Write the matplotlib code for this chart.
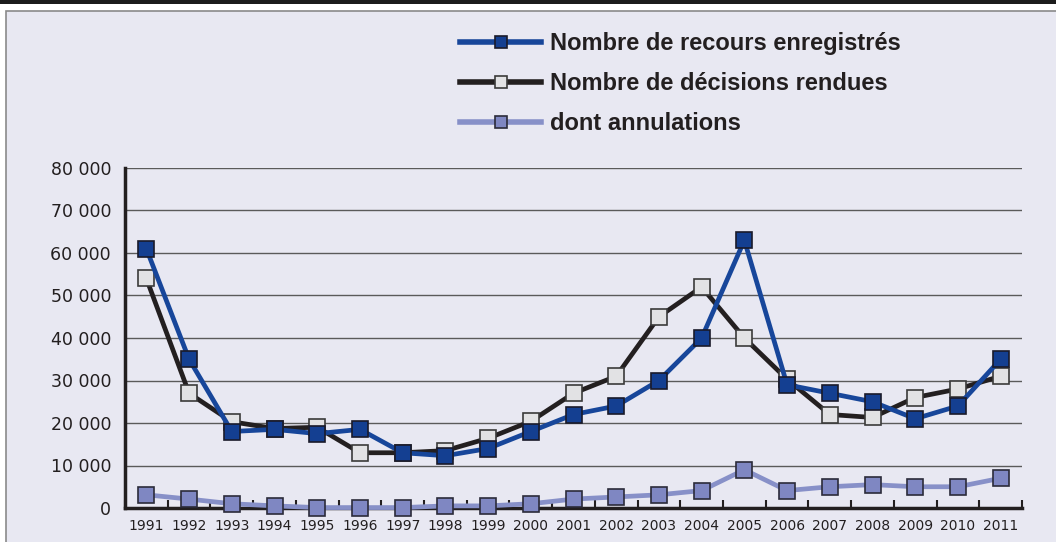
"""
Recours enregistrés, décisions rendues et annulations, 1991-2011.
"""
import matplotlib
matplotlib.use("Agg")
from matplotlib import pyplot as plt
from matplotlib.patches import Rectangle
from matplotlib.ticker import FuncFormatter, FixedLocator

years = [str(y) for y in range(1991, 2012)]
recours = [61000, 35000, 18000, 18500, 17500, 18500, 13000, 12300, 14000, 18000,
           22000, 24000, 30000, 40000, 63000, 29000, 27000, 25000, 21000, 24000, 35000]
decisions = [54000, 27000, 20300, 18700, 19000, 13000, 13000, 13500, 16400, 20400,
             27000, 31000, 45000, 52000, 40000, 30300, 22000, 21300, 26000, 28000, 31000]
annulations = [3100, 2100, 1000, 500, 100, 100, 100, 500, 500, 1000,
               2100, 2600, 3100, 4100, 9000, 4100, 5000, 5500, 5000, 5000, 7000]

labels = ["Nombre de recours enregistrés",
          "Nombre de décisions rendues",
          "dont annulations"]

BG = "#e8e8f2"
INK = "#231f20"

fig = plt.figure(figsize=(10.56, 5.42), dpi=100)
fig.patch.set_facecolor("white")

# page decoration: black band on top, lavender framed box
W, H = 1056, 542
fig.patches.append(Rectangle((0, 1 - 4 / H), 1, 4 / H, transform=fig.transFigure,
                             facecolor="#1c1c1c", edgecolor="none", zorder=-2))
fig.patches.append(Rectangle((6 / W, -0.05), 1.1, 1.05 - 11 / H, transform=fig.transFigure,
                             facecolor=BG, edgecolor="#8a8a8a", linewidth=1.2, zorder=-2))

ax = fig.add_axes([125 / W, 1 - 508 / H, (1022 - 125) / W, (508 - 168) / H])
ax.set_zorder(2)
ax.set_facecolor("none")

x = list(range(len(years)))
ax.plot(x, annulations, color="#8790c8", linewidth=3.4, marker="s", markersize=11,
        markerfacecolor="#7f87c2", markeredgecolor="#2b2b3a", markeredgewidth=1.2,
        label=labels[2], zorder=3, clip_on=False)
ax.plot(x, decisions, color=INK, linewidth=3.4, marker="s", markersize=11,
        markerfacecolor="#e2e2e4", markeredgecolor="#3a3a3a", markeredgewidth=1.2,
        label=labels[1], zorder=4, clip_on=False)
ax.plot(x, recours, color="#17469a", linewidth=3.4, marker="s", markersize=11,
        markerfacecolor="#143f91", markeredgecolor="#1a1a2a", markeredgewidth=1.2,
        label=labels[0], zorder=5, clip_on=False)

ax.set_xlim(-0.5, len(years) - 0.5)
ax.set_ylim(0, 80000)
ax.set_yticks(range(0, 80001, 10000))
ax.yaxis.set_major_formatter(FuncFormatter(lambda v, p: f"{int(v):,}".replace(",", " ")))
ax.grid(axis="y", color="#5a5a5a", linewidth=1.0, zorder=1)
ax.set_axisbelow(True)

ax.set_xticks(x)
ax.set_xticklabels(years)
ax.xaxis.set_minor_locator(FixedLocator([i - 0.5 for i in range(len(years) + 1)]))
ax.tick_params(axis="x", which="major", length=0, labelsize=10, colors=INK, pad=8)
ax.tick_params(axis="x", which="minor", direction="in", length=6, width=1.5, color=INK)
ax.tick_params(axis="y", length=0, labelsize=12.5, colors=INK, pad=10)

for s in ["top", "right"]:
    ax.spines[s].set_visible(False)
ax.spines["left"].set_linewidth(2.5)
ax.spines["bottom"].set_linewidth(2.5)
ax.spines["left"].set_color(INK)
ax.spines["bottom"].set_color(INK)

handles, labs = ax.get_legend_handles_labels()
order = [2, 1, 0]
leg = fig.legend([handles[i] for i in order], [labs[i] for i in order],
                 loc="upper left", bbox_to_anchor=(451 / W, 1 - 23 / H),
                 frameon=False, handlelength=3.4, handletextpad=0.4,
                 labelspacing=0.72, borderaxespad=0,
                 prop={"family": ["Liberation Sans Narrow", "Liberation Sans"],
                       "weight": "bold", "size": 17})
for t in leg.get_texts():
    t.set_color(INK)
for h in leg.legend_handles:
    h.set_markersize(8)
    h.set_linewidth(4)

fig.savefig("out.png", dpi=100)
